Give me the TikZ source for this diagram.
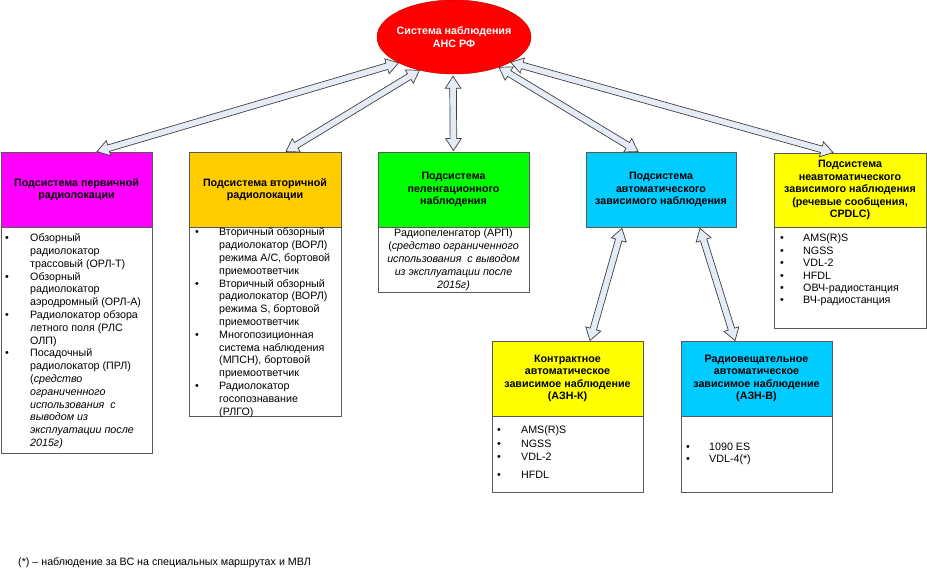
\documentclass[tikz,border=0pt]{standalone}
\usepackage{fontspec}
\setmainfont{Liberation Sans}
\usetikzlibrary{calc,shapes.geometric}
\definecolor{cMag}{HTML}{FF00FF}
\definecolor{cOra}{HTML}{FFCC00}
\definecolor{cGrn}{HTML}{00FF00}
\definecolor{cCya}{HTML}{00CCFF}
\definecolor{cYel}{HTML}{FFFF00}
\definecolor{cRed}{HTML}{FF0000}
\definecolor{arrfill}{HTML}{E6ECF6}
\newcommand\myb[1]{\makebox[#1][l]{•}}
\newcommand\myi[1]{\hspace*{#1}}
\def\arrH{12pt}
\def\arrW{7.8pt}
\def\arrS{3.3pt}
\newcommand\dblarrow[2]{%
 \draw[blk] (#1) -- ($(#1)!\arrH!(#2)!\arrW!90:(#2)$) -- ($(#1)!\arrH!(#2)!\arrS!90:(#2)$)
  -- ($(#2)!\arrH!(#1)!\arrS!-90:(#1)$) -- ($(#2)!\arrH!(#1)!\arrW!-90:(#1)$) -- (#2)
  -- ($(#2)!\arrH!(#1)!\arrW!90:(#1)$) -- ($(#2)!\arrH!(#1)!\arrS!90:(#1)$)
  -- ($(#1)!\arrH!(#2)!\arrS!-90:(#2)$) -- ($(#1)!\arrH!(#2)!\arrW!-90:(#2)$) -- cycle;}
\tikzset{
 hdr/.style={draw=black!65, line width=0.9pt, inner sep=1pt, align=center,
   font=\fontsize{10.7}{12.5}\selectfont\bfseries},
 bodybox/.style={draw=black!65, line width=0.9pt, fill=white, inner sep=0pt},
 btxt/.style={anchor=base west, inner sep=0pt, align=left, font=\fontsize{10.7}{12.8}\selectfont},
 blk/.style={draw=black!75, line width=0.7pt, fill=arrfill, line join=miter},
}
\begin{document}
\begin{tikzpicture}[x=1pt,y=-1pt]
\useasboundingbox (0,0) rectangle (927,570);
% central ellipse
\node[ellipse, fill=cRed, draw=red!80!black, line width=0.5pt, minimum width=154pt, minimum height=74pt, inner sep=0pt] (ell) at (454,37) {};
\node[text=white, align=center, inner sep=0pt, font=\fontsize{10.7}{12.3}\selectfont\bfseries] (elltxt) at (ell.center) {Система наблюдения\\АНС РФ};
% headers
\node[hdr, fill=cMag, minimum width=151pt, minimum height=75pt] (h1) at (76.5,189.5) {Подсистема первичной\\радиолокации};
\node[hdr, fill=cOra, minimum width=152pt, minimum height=75pt] (h2) at (265,189.5) {Подсистема вторичной\\радиолокации};
\node[hdr, fill=cGrn, minimum width=151pt, minimum height=75pt] (h3) at (453.5,189.5) {Подсистема\\пеленгационного\\наблюдения};
\node[hdr, fill=cCya, minimum width=150pt, minimum height=75pt] (h4) at (661,189.5) {Подсистема\\автоматического\\зависимого наблюдения};
\node[hdr, fill=cYel, minimum width=152pt, minimum height=74pt] (h5) at (850,190) {Подсистема\\неавтоматического\\зависимого наблюдения\\(речевые сообщения,\\CPDLC)};
\node[hdr, fill=cYel, minimum width=151pt, minimum height=75pt] (h6) at (567.5,378.5) {Контрактное\\автоматическое\\зависимое наблюдение\\(АЗН-К)};
\node[hdr, fill=cCya, minimum width=151pt, minimum height=75pt] (h7) at (756.5,378.5) {Радиовещательное\\автоматическое\\зависимое наблюдение\\(АЗН-В)};
% bodies
\node[bodybox, minimum width=151pt, minimum height=226pt, anchor=north] (b1) at (h1.south) {};
\node[bodybox, minimum width=152pt, minimum height=189pt, anchor=north] (b2) at (h2.south) {};
\node[bodybox, minimum width=151pt, minimum height=65pt, anchor=north] (b3) at (h3.south) {};
\node[bodybox, minimum width=152pt, minimum height=101pt, anchor=north] (b5) at (h5.south) {};
\node[bodybox, minimum width=151pt, minimum height=76pt, anchor=north] (b6) at (h6.south) {};
\node[bodybox, minimum width=151pt, minimum height=76pt, anchor=north] (b7) at (h7.south) {};
% body texts (base anchor = baseline of the last line)
\node[btxt] (t1) at (5,446.5) {\myb{25pt}Обзорный\\
\myi{25pt}радиолокатор\\
\myi{25pt}трассовый (ОРЛ-Т)\\
\myb{25pt}Обзорный\\
\myi{25pt}радиолокатор\\
\myi{25pt}аэродромный (ОРЛ-А)\\
\myb{25pt}Радиолокатор обзора\\
\myi{25pt}летного поля (РЛС\\
\myi{25pt}ОЛП)\\
\myb{25pt}Посадочный\\
\myi{25pt}радиолокатор (ПРЛ)\\
\myi{25pt}(\textit{средство}\\
\myi{25pt}\textit{ограниченного}\\
\myi{25pt}\textit{использования\ \ с}\\
\myi{25pt}\textit{выводом из}\\
\myi{25pt}\textit{эксплуатации после}\\
\myi{25pt}\textit{2015г)}};
\node[btxt] (t2) at (195,415) {\myb{24pt}Вторичный обзорный\\
\myi{24pt}радиолокатор (ВОРЛ)\\
\myi{24pt}режима А/С, бортовой\\
\myi{24pt}приемоответчик\\
\myb{24pt}Вторичный обзорный\\
\myi{24pt}радиолокатор (ВОРЛ)\\
\myi{24pt}режима S, бортовой\\
\myi{24pt}приемоответчик\\
\myb{24pt}Многопозиционная\\
\myi{24pt}система наблюдения\\
\myi{24pt}(МПСН), бортовой\\
\myi{24pt}приемоответчик\\
\myb{24pt}Радиолокатор\\
\myi{24pt}госопознавание\\
\myi{24pt}(РЛГО)};
\node[btxt, anchor=base, align=center] (t3) at (453.5,288) {Радиопеленгатор (АРП)\\
(\textit{средство ограниченного}\\
\textit{использования\ \ с выводом}\\
\textit{из эксплуатации после}\\
\textit{2015г)}};
\node[btxt, font=\fontsize{10.7}{12.4}\selectfont] (t5) at (780,303.8) {\myb{23pt}AMS(R)S\\
\myb{23pt}NGSS\\
\myb{23pt}VDL-2\\
\myb{23pt}HFDL\\
\myb{23pt}ОВЧ-радиостанция\\
\myb{23pt}ВЧ-радиостанция};
\node[btxt, font=\fontsize{10.7}{13.5}\selectfont] (t6) at (497,478.8) {\myb{24pt}AMS(R)S\\
\myb{24pt}NGSS\\
\myb{24pt}VDL-2\\[4.5pt]
\myb{24pt}HFDL};
\node[btxt, font=\fontsize{10.7}{12}\selectfont] (t7) at (686,462.8) {\myb{23pt}1090 ES\\
\myb{23pt}VDL-4(*)};
% footnote
\node[btxt] (fn) at (18,565.8) {(*) – наблюдение за ВС на специальных маршрутах и МВЛ};
% arrow endpoints
\coordinate (p1) at ($(h1.north)+(20.5,0)$);
\coordinate (q1) at (ell.205);
\coordinate (p2) at ($(h2.north)+(21,0)$);
\coordinate (q2) at (ell.224);
\coordinate (p3) at ($(h3.north)+(0,-1)$);
\coordinate (q3) at ($(ell.south)+(-1,2)$);
\coordinate (q4) at (ell.326);
\coordinate (p4) at ($(h4.north)+(-23,0)$);
\coordinate (q5) at (ell.336);
\coordinate (p5) at ($(h5.north)+(-17,0)$);
\coordinate (s6) at ($(h4.south)+(-39,1)$);
\coordinate (e6) at ($(h6.north)+(22.5,0)$);
\coordinate (s7) at ($(h4.south)+(39,1)$);
\coordinate (e7) at ($(h7.north)+(-21.5,0)$);
% arrows
\dblarrow{p1}{q1}
\dblarrow{p2}{q2}
\dblarrow{p3}{q3}
\dblarrow{q4}{p4}
\dblarrow{q5}{p5}
\dblarrow{s6}{e6}
\dblarrow{s7}{e7}
\end{tikzpicture}
\end{document}
